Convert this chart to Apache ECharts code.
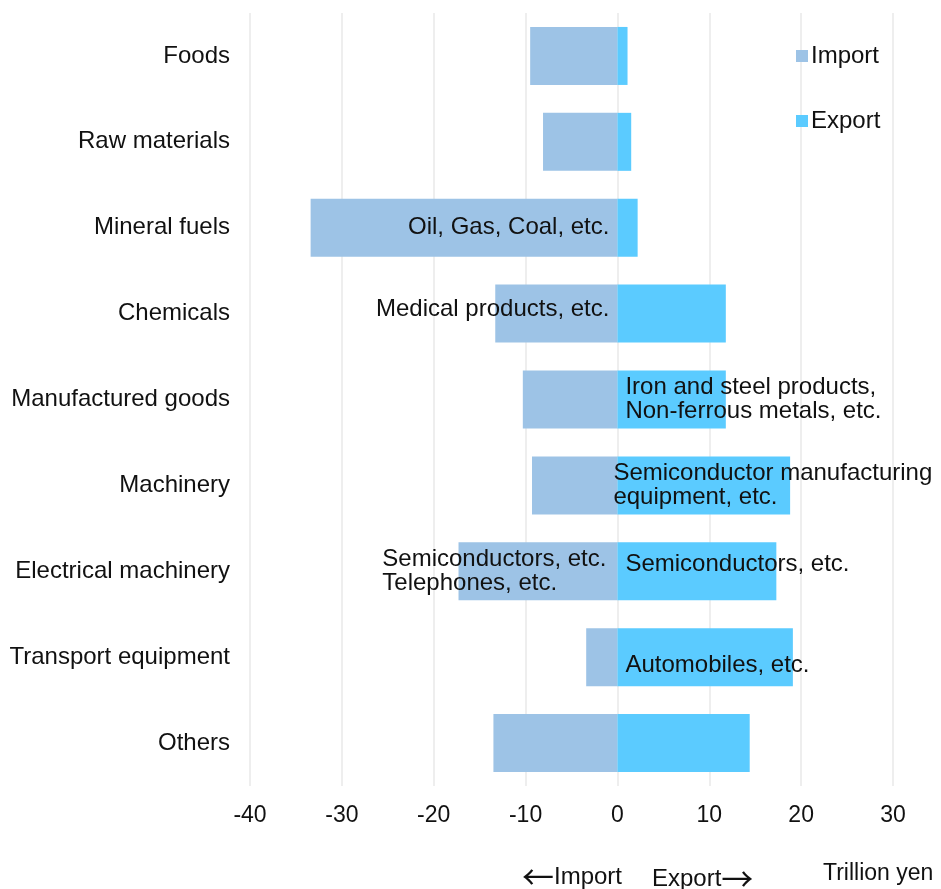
<!DOCTYPE html>
<html>
<head>
<meta charset="utf-8">
<script src="https://cdn.jsdelivr.net/npm/echarts@6/dist/echarts.min.js"></script>
<style>
  html, body { margin: 0; padding: 0; background: #fff; }
  #chart { width: 941px; height: 889px; }
</style>
</head>
<body>
<div id="chart"></div>
<script>
// trade by commodity, trillion yen (imports negative)
const categories = ['Foods', 'Raw materials', 'Mineral fuels', 'Chemicals', 'Manufactured goods',
  'Machinery', 'Electrical machinery', 'Transport equipment', 'Others'];
const importValues = [-9.5, -8.1, -33.4, -13.3, -10.3, -9.3, -17.3, -3.4, -13.5];
const exportValues = [1.1, 1.5, 2.2, 11.8, 11.8, 18.8, 17.3, 19.1, 14.4];

// notes shown on bars (null = no note)
const importNotes = [null, null, 'Oil, Gas, Coal, etc.', 'Medical products, etc.', null, null,
  'Semiconductors, etc.\nTelephones, etc.', null, null];
const exportNotes = [null, null, null, null, 'Iron and steel products,\nNon-ferrous metals, etc.',
  'Semiconductor manufacturing\nequipment, etc.', 'Semiconductors, etc.', 'Automobiles, etc.', null];

const FONT = "'Liberation Sans', Arial, sans-serif";
const ARROW_FONT = "'Noto Sans CJK JP', 'DejaVu Sans', sans-serif";
const FS = 24;

const noteStyle = { fontSize: FS, fontFamily: FONT, color: '#111', lineHeight: 24, align: 'left' };

// small per-label nudges to match the original placement
const importOffsets = { 3: [0, -4], 6: [0, 0] };
const exportOffsets = { 5: [-12, 0], 6: [0, -7], 7: [0, 8] };

function toRich(text) {
  return text.split('\n').map(l => '{n|' + l + '}').join('\n');
}

const importData = importValues.map((v, i) => {
  if (!importNotes[i]) return v;
  return {
    value: v,
    label: {
      show: true,
      position: 'insideRight',
      distance: i === 6 ? 11 : 8,
      offset: importOffsets[i] || [0, 0],
      formatter: toRich(importNotes[i]),
      rich: { n: noteStyle }
    }
  };
});

const exportData = exportValues.map((v, i) => {
  if (!exportNotes[i]) return v;
  return {
    value: v,
    label: {
      show: true,
      position: 'insideLeft',
      distance: 8,
      offset: exportOffsets[i] || [0, 0],
      formatter: toRich(exportNotes[i]),
      rich: { n: noteStyle }
    }
  };
});

const bottomRich = {
  t: { fontSize: FS, fontFamily: FONT, fill: '#111', color: '#111', lineHeight: 30 },
  a: { fontSize: 32, fontFamily: ARROW_FONT, fill: '#111', color: '#111', lineHeight: 30 }
};

const chart = echarts.init(document.getElementById('chart'));
chart.setOption({
  animation: false,
  textStyle: { fontFamily: FONT },
  grid: { left: 250, right: 48, top: 13, bottom: 103, containLabel: false },
  legend: {
    orient: 'vertical',
    left: 791,
    top: 39,
    icon: 'rect',
    itemWidth: 12,
    itemHeight: 12,
    itemGap: 41,
    textStyle: { fontSize: FS, fontFamily: FONT, color: '#111', padding: [0, 0, 0, -2], lineHeight: 24 },
    data: ['Import', 'Export']
  },
  xAxis: {
    type: 'value',
    min: -40,
    max: 30,
    interval: 10,
    axisLine: { show: false },
    axisTick: { show: false },
    axisLabel: { fontSize: 23, fontFamily: FONT, color: '#111', margin: 18 },
    splitLine: { show: true, lineStyle: { color: '#eeeeee', width: 2 } }
  },
  yAxis: {
    type: 'category',
    inverse: true,
    data: categories,
    axisLine: { show: false },
    axisTick: { show: false },
    axisLabel: { fontSize: FS, fontFamily: FONT, color: '#111', margin: 20 }
  },
  series: [
    {
      name: 'Import',
      type: 'bar',
      data: importData,
      barWidth: 58,
      barGap: '-100%',
      itemStyle: { color: '#9dc3e6' },
      label: { show: false }
    },
    {
      name: 'Export',
      type: 'bar',
      data: exportData,
      barWidth: 58,
      itemStyle: { color: '#5bcbff' },
      label: { show: false }
    }
  ],
  graphic: [
    { type: 'text', right: 941 - 622, top: 861,
      style: { text: '{a|←}{t|Import}', rich: bottomRich, fontSize: FS } },
    { type: 'text', left: 652, top: 863,
      style: { text: '{t|Export}{a|→}', rich: bottomRich, fontSize: FS } },
    { type: 'text', left: 823, top: 862,
      style: { text: 'Trillion yen', fontSize: 23, fontFamily: FONT, fill: '#111' } }
  ]
});
</script>
</body>
</html>
